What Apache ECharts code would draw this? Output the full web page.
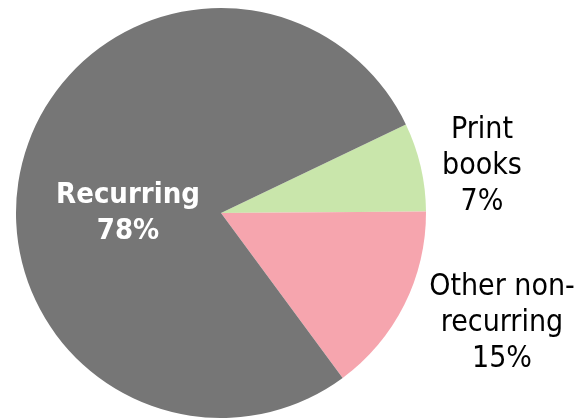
<!DOCTYPE html>
<html>
<head>
<meta charset="utf-8">
<script src="https://cdn.jsdelivr.net/npm/echarts@6/dist/echarts.min.js"></script>
<style>
html,body{margin:0;padding:0;background:#fff;}
#chart{width:581px;height:418px;}
</style>
</head>
<body>
<div id="chart"></div>
<script>
// Data
const categories = ["Print books", "Other non-recurring", "Recurring"];
const labelTexts = ["Print\nbooks", "Other non-\nrecurring", "Recurring"];
const values = [7, 15, 78];
const colors = ["#c9e6ab", "#f6a5ae", "#767676"];
// label anchor positions (text placement only)
const labelPos = [[482, 166], [502, 323], [128, 213]];

const chart = echarts.init(document.getElementById('chart'), null, {renderer: 'canvas'});
const fontFam = '"DejaVu Sans Condensed", "DejaVu Sans", sans-serif';
chart.setOption({
  animation: false,
  series: [{
    type: 'pie',
    center: [221, 213],
    radius: 205,
    startAngle: 25.6,
    clockwise: true,
    avoidLabelOverlap: false,
    labelLine: {show: false},
    data: categories.map((c, i) => ({
      name: c,
      value: values[i],
      itemStyle: {color: colors[i]},
      label: i === 2 ? {
        color: '#ffffff', fontWeight: 'bold', fontSize: 29
      } : {
        color: '#000000', fontSize: 30
      }
    })),
    label: {
      show: true,
      position: 'outside',
      fontFamily: fontFam,
      lineHeight: 36,
      align: 'center',
      formatter: p => labelTexts[p.dataIndex] + '\n' + Math.round(p.percent) + '%'
    },
    labelLayout: function (params) {
      const pos = labelPos[params.dataIndex];
      return {x: pos[0], y: pos[1], align: 'center', verticalAlign: 'middle'};
    }
  }]
});
</script>
</body>
</html>
